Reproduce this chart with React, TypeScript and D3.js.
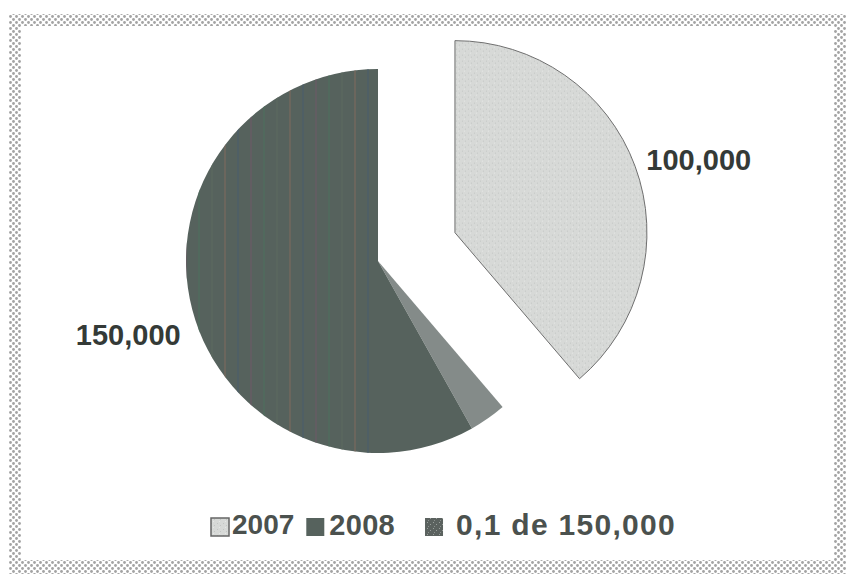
import React, { useEffect, useRef } from 'react'
import * as d3 from 'd3'

// legend order
const categories = ['2007', '2008', '0,1 de 150,000']
const values = [100000, 150000, 8000]
const valueLabels = ['100,000', '150,000', '']
// order the slices are drawn clockwise from 12 o'clock
const pieOrder = [0, 2, 1]
const colors = ['#d5d7d5', '#56625d', '#848b89']
const explode = [82, 0, 0]
const labelDy = [0, 25, 0]

const W = 846
const H = 574

const App = () => {
  const ref = useRef<SVGSVGElement>(null)

  useEffect(() => {
    const svg = d3.select(ref.current)
    svg.selectAll('*').remove()

    const defs = svg.append('defs')
    const frame = defs.append('pattern')
      .attr('id', 'frame')
      .attr('width', 6)
      .attr('height', 6)
      .attr('patternUnits', 'userSpaceOnUse')
    frame.append('rect').attr('width', 6).attr('height', 6).attr('fill', '#fff')
    frame.append('circle').attr('cx', 1.5).attr('cy', 1.5).attr('r', 1.4).attr('fill', '#a3a3a3')
    frame.append('circle').attr('cx', 4.5).attr('cy', 4.5).attr('r', 1.4).attr('fill', '#a3a3a3')

    const speck = defs.append('pattern')
      .attr('id', 'speck')
      .attr('width', 6)
      .attr('height', 6)
      .attr('patternUnits', 'userSpaceOnUse')
    speck.append('rect').attr('width', 6).attr('height', 6).attr('fill', '#5b625f')
    speck.append('rect').attr('x', 1).attr('y', 1).attr('width', 1).attr('height', 1).attr('fill', '#9aa09d')
    speck.append('rect').attr('x', 4).attr('y', 3).attr('width', 1).attr('height', 1).attr('fill', '#9aa09d')
    speck.append('rect').attr('x', 2).attr('y', 5).attr('width', 1).attr('height', 1).attr('fill', '#8a908d')

    const lightSpeck = defs.append('pattern')
      .attr('id', 'lightspeck')
      .attr('width', 6)
      .attr('height', 6)
      .attr('patternUnits', 'userSpaceOnUse')
    lightSpeck.append('rect').attr('width', 6).attr('height', 6).attr('fill', '#d7d9d7')
    lightSpeck.append('rect').attr('x', 1).attr('y', 2).attr('width', 1).attr('height', 1).attr('fill', '#c2c5c3')
    lightSpeck.append('rect').attr('x', 4).attr('y', 4).attr('width', 1).attr('height', 1).attr('fill', '#c2c5c3')
    lightSpeck.append('rect').attr('x', 3).attr('y', 0).attr('width', 1).attr('height', 1).attr('fill', '#e6e8e6')

    // dotted frame
    svg.append('rect')
      .attr('x', 9).attr('y', 14)
      .attr('width', W - 9).attr('height', H - 14)
      .attr('fill', 'url(#frame)')
    svg.append('rect')
      .attr('x', 21).attr('y', 26)
      .attr('width', W - 33).attr('height', H - 40)
      .attr('fill', '#fff')

    const cx = 378
    const cy = 261
    const r = 192

    const pieData = d3.pie<number>()
      .sort(null)
      .value((i) => values[i])(pieOrder)

    const arc = d3.arc<d3.PieArcDatum<number>>().innerRadius(0).outerRadius(r)
    const labelArc = d3.arc<d3.PieArcDatum<number>>().innerRadius(r + 12).outerRadius(r + 12)

    const g = svg.append('g').attr('transform', `translate(${cx},${cy})`)

    const slices = g.selectAll('g.slice')
      .data(pieData)
      .join('g')
      .attr('class', 'slice')
      .attr('transform', (d) => {
        const a = (d.startAngle + d.endAngle) / 2
        const e = explode[d.data]
        return `translate(${Math.sin(a) * e},${-Math.cos(a) * e})`
      })

    slices.append('path')
      .attr('d', arc)
      .attr('fill', (d) => (d.data === 0 ? 'url(#lightspeck)' : colors[d.data]))
      .attr('stroke', (d) => (d.data === 0 ? '#6f6f6f' : 'none'))
      .attr('stroke-width', 1)

    // texture stripes on the dark slice
    const dark = pieData.find((d) => d.data === 1)
    if (dark) {
      const clip = defs.append('clipPath').attr('id', 'darkclip')
      clip.append('path').attr('d', arc(dark) as string)
      const stripes = g.append('g').attr('clip-path', 'url(#darkclip)')
      const stripeX = d3.range(-r, 0, 13)
      const stripeCols = ['#6b5a66', '#4f6e5e', '#5c6a60', '#7a6a5e', '#4b5e6c']
      stripes.selectAll('line')
        .data(stripeX)
        .join('line')
        .attr('x1', (d) => d).attr('x2', (d) => d)
        .attr('y1', -r).attr('y2', r)
        .attr('stroke', (d, i) => stripeCols[i % stripeCols.length])
        .attr('stroke-width', 2)
        .attr('opacity', 0.6)
    }

    slices.filter((d) => valueLabels[d.data] !== '')
      .append('text')
      .attr('x', (d) => labelArc.centroid(d)[0])
      .attr('y', (d) => labelArc.centroid(d)[1] + labelDy[d.data])
      .attr('text-anchor', (d) => ((d.startAngle + d.endAngle) / 2 < Math.PI ? 'start' : 'end'))
      .attr('dominant-baseline', 'middle')
      .attr('font-family', '"Liberation Sans", Arial, sans-serif')
      .attr('font-weight', 'bold')
      .attr('font-size', 29)
      .attr('fill', '#343a37')
      .text((d) => valueLabels[d.data])

    // legend
    const legend = svg.append('g').attr('transform', 'translate(0,527)')
    const textGap = [3, 5, 13]
    const itemGap = [12, 30, 0]
    const fontSize = [28, 29, 30]
    const spacing = [0, 0.3, 1.3]
    let x = 211
    categories.forEach((c, i) => {
      const item = legend.append('g')
      item.append('rect')
        .attr('x', x).attr('y', -9)
        .attr('width', 18).attr('height', 18)
        .attr('fill', i === 0 ? 'url(#lightspeck)' : i === 1 ? colors[1] : 'url(#speck)')
        .attr('stroke', i === 0 ? '#666' : 'none')
        .attr('stroke-width', 1.5)
      const t = item.append('text')
        .attr('x', x + 18 + textGap[i])
        .attr('y', 0)
        .attr('dominant-baseline', 'middle')
        .attr('font-family', '"Liberation Sans", Arial, sans-serif')
        .attr('font-weight', 'bold')
        .attr('font-size', fontSize[i])
        .attr('letter-spacing', spacing[i])
        .attr('fill', '#4b514e')
        .text(c)
      const w = (t.node() as SVGTextElement).getComputedTextLength()
      x += 18 + textGap[i] + w + itemGap[i]
    })
  }, [])

  return (
    <svg
      ref={ref}
      width={W}
      height={H}
      style={{ position: 'absolute', left: 0, top: 0, background: '#fff' }}
    />
  )
}

export default App
